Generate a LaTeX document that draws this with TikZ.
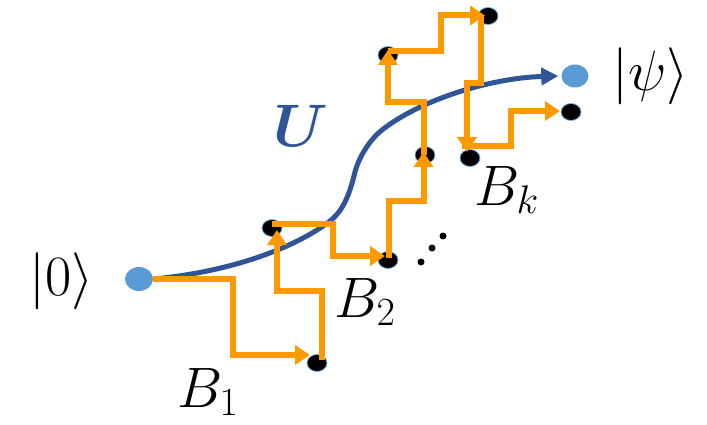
\RequirePackage{fix-cm}
\documentclass[tikz,border=0pt]{standalone}
\usepackage{bm}
\usetikzlibrary{arrows.meta,shapes.geometric}
\definecolor{qorange}{RGB}{255,153,0}
\definecolor{qblue}{RGB}{47,85,151}
\definecolor{qdot}{RGB}{91,155,213}
\definecolor{qrim}{RGB}{120,175,225}
\begin{document}
\begin{tikzpicture}[x=1pt,y=-1pt,
  bluedot/.style={ellipse,inner sep=0pt,minimum width=28pt,minimum height=24pt,fill=qdot},
  blackdot/.style={ellipse,inner sep=0pt,minimum width=20pt,minimum height=17pt,fill=black,draw=qrim,line width=0.8pt},
  tinydot/.style={circle,inner sep=0pt,minimum size=7pt,fill=black},
  bluecurve/.style={draw=qblue,line width=5pt,-{Triangle[length=17pt,width=17pt]}},
  opath/.style={draw=qorange,line width=6pt,-{Triangle[length=15pt,width=19pt]}},
  biglabel/.style={inner sep=0pt,font=\fontsize{57}{60}\selectfont}
]
\useasboundingbox (0,0) rectangle (707,425);
% dots
\node[bluedot] (s0) at (139,279) {};
\node[bluedot,minimum width=27pt,minimum height=23pt] (psi) at (575,76) {};
\node[blackdot] (b1) at (317,363) {};
\node[blackdot] (b2) at (272,228) {};
\node[blackdot] (b3) at (388,260) {};
\node[blackdot] (b4) at (425,155) {};
\node[blackdot] (b5) at (388,55) {};
\node[blackdot] (b6) at (488,16) {};
\node[blackdot] (b7) at (470,158) {};
\node[blackdot] (b8) at (571,112) {};
\node[tinydot] (e1) at (421,262) {};
\node[tinydot] (e2) at (432,248) {};
\node[tinydot] (e3) at (443,236) {};
% blue curve
\draw[bluecurve] (s0.east) .. controls (230,272) and (295,248) .. (330,221)
  .. controls (345,209.4) and (350.5,190) .. (355,172)
  .. controls (358,160) and (368,141) .. (382,130)
  .. controls (420,100) and (490,78) .. ([xshift=-3pt]psi.west);
% orange paths
\draw[opath] (s0.east) -- (233,279) -- (233,355) -- ([shift={(-7,-8)}]b1.center);
\draw[opath] ([shift={(5,-3)}]b1.center) -- (322,291) -- (277,291) -- ([shift={(5,2)}]b2.center);
\draw[opath] ([shift={(0,-4)}]b2.center) -- (333,224) -- (333,256) -- ([shift={(-3,-4)}]b3.center);
\draw[opath] ([shift={(1,-2)}]b3.center) -- (389,201) -- (423.5,201) -- ([shift={(-1.5,-3)}]b4.center);
\draw[opath] ([shift={(-1.5,0)}]b4.center) -- (423.5,102) -- (388,102) -- ([shift={(0,-5)}]b5.center);
\draw[opath] ([shift={(0,-4)}]b5.center) -- (441,51) -- (441,15.5) -- ([shift={(-3,-0.5)}]b6.center);
\draw[opath] ([shift={(-7,0)}]b6.center) -- (481,83) -- (467,83) -- ([shift={(-3,-6)}]b7.center);
\draw[opath] ([shift={(-8,-11.5)}]b7.center) -- (511,146.5) -- (511,111) -- ([shift={(-11,-1)}]b8.center);
% labels
\node[biglabel] (l0) at (61.5,281) {$|0\rangle$};
\node[biglabel] (lpsi) at (650.5,76.5) {$|\psi\rangle$};
\node[biglabel,anchor=base west] (lb1) at (177,407) {$B_1$};
\node[biglabel,anchor=base west] (lb2) at (334,317) {$B_2$};
\node[biglabel,anchor=base west] (lbk) at (474,205) {$B_k$};
\node[biglabel,anchor=base west,text=qblue,font=\fontsize{60}{62}\selectfont] (lu) at (273,147) {$\bm{U}$};
\end{tikzpicture}
\end{document}
